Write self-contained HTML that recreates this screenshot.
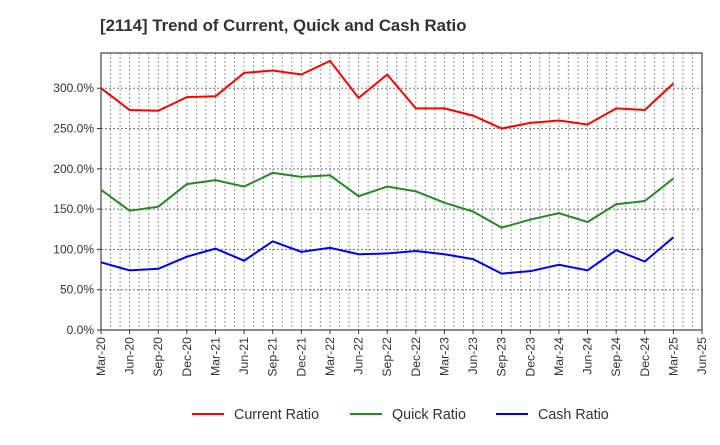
<!DOCTYPE html>
<html><head><meta charset="utf-8"><style>
body{margin:0;background:#fff;font-family:"Liberation Sans",sans-serif}
</style></head><body>
<svg id="c" width="720" height="440" xmlns="http://www.w3.org/2000/svg">
<text x="100" y="31" font-size="16.8" font-weight="bold" fill="#333">[2114]  Trend of Current, Quick and Cash Ratio</text>
<g id="grid"></g><g id="axes"></g><g id="lines"></g><g id="legend"></g>
</svg>
<script>
const xLabels=["Mar-20","Jun-20","Sep-20","Dec-20","Mar-21","Jun-21","Sep-21","Dec-21","Mar-22","Jun-22","Sep-22","Dec-22","Mar-23","Jun-23","Sep-23","Dec-23","Mar-24","Jun-24","Sep-24","Dec-24","Mar-25","Jun-25"];
const yTicks=[0,50,100,150,200,250,300];
const currentRatio=[300,273,272,289,290,319,322,317,334,288,317,275,275,266,250,257,260,255,275,273,306];
const quickRatio=[174,148,153,181,186,178,195,190,192,166,178,172,158,147,127,137,145,134,156,160,188];
const cashRatio=[84,74,76,91,101,86,110,97,102,94,95,98,94,88,70,73,81,74,99,85,115];
const L=101,R=702,T=53,B=330,YMAX=343.7;
const NS="http://www.w3.org/2000/svg";
const xs=i=>L+(R-L)*i/(xLabels.length-1);
const ys=v=>B-(B-T)*v/YMAX;
function mk(tag,attrs,parent){const e=document.createElementNS(NS,tag);for(const k in attrs)e.setAttribute(k,attrs[k]);parent.appendChild(e);return e;}
const grid=document.getElementById('grid'),axes=document.getElementById('axes'),lines=document.getElementById('lines'),leg=document.getElementById('legend');
for(let m=1;m<(xLabels.length-1)*3;m++){const x=L+(R-L)*m/((xLabels.length-1)*3);
const g=mk('line',{x1:x,x2:x,y1:T,y2:B,stroke:'#999','stroke-width':1,'stroke-dasharray':'2,2'},grid);

}
yTicks.forEach(v=>{const y=ys(v);
const g=mk('line',{x1:L,x2:R,y1:y,y2:y,stroke:'#777','stroke-width':1,'stroke-dasharray':'2,2'},grid);


mk('line',{x1:L-4,x2:L,y1:y,y2:y,stroke:'#333'},axes);
const t=mk('text',{x:L-7,y:y+4,'text-anchor':'end','font-size':12,fill:'#333'},axes);t.textContent=v.toFixed(1)+'%';

});
xLabels.forEach((s,i)=>{const x=xs(i);
mk('line',{x1:x,x2:x,y1:B,y2:B+4,stroke:'#333'},axes);
const t=mk('text',{x:x+4,y:B+7,'text-anchor':'end','font-size':12.3,fill:'#333',transform:`rotate(-90 ${x+4} ${B+7})`},axes);t.textContent=s;

});
const fr=mk('rect',{x:L,y:T,width:R-L,height:B-T,fill:'none',stroke:'#444','stroke-width':1.2},axes);


const series=[[currentRatio,'#ff0000','Current Ratio','current-ratio-line'],[quickRatio,'#228b22','Quick Ratio','quick-ratio-line'],[cashRatio,'#0000ff','Cash Ratio','cash-ratio-line']];
series.forEach(([d,c,n,id])=>{const p=mk('polyline',{points:d.map((v,i)=>xs(i)+','+ys(v)).join(' '),fill:'none',stroke:c,'stroke-width':2},lines);

});
const lx=[192,350,496];
series.forEach(([d,c,n,id],k)=>{const g=mk('g',{},leg);


mk('line',{x1:lx[k],x2:lx[k]+32,y1:414,y2:414,stroke:c,'stroke-width':2},g);
const t=mk('text',{x:lx[k]+42,y:419,'font-size':14.3,fill:'#333'},g);t.textContent=n;});
</script>
</body></html>
